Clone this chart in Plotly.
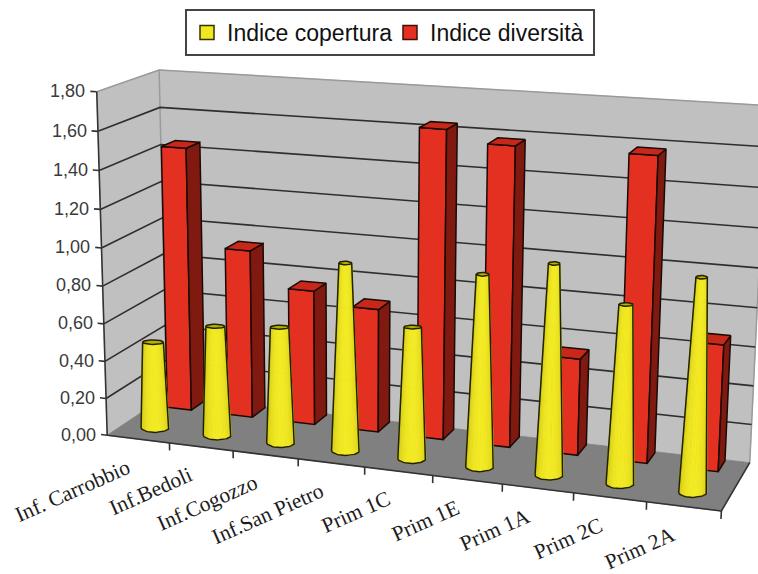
import numpy as np
import plotly.graph_objects as go

# ---------- data ----------
categories = ["Inf. Carrobbio", "Inf.Bedoli", "Inf.Cogozzo", "Inf.San Pietro", "Prim 1C", "Prim 1E", "Prim 1A", "Prim 2C", "Prim 2A"]
indice_copertura = [0.465, 0.585, 0.615, 0.98, 0.685, 0.985, 1.07, 0.90, 1.065]
indice_diversita = [1.43, 0.91, 0.725, 0.66, 1.62, 1.56, 0.505, 1.56, 0.65]
tick_values = [0.0, 0.2, 0.4, 0.6, 0.8, 1.0, 1.2, 1.4, 1.6, 1.8]
tick_labels = ["0,00", "0,20", "0,40", "0,60", "0,80", "1,00", "1,20", "1,40", "1,60", "1,80"]
series_names = ["Indice copertura", "Indice diversità"]

W, H = 758, 574
N = len(categories)
ZMAX = tick_values[-1]

# ---------- oblique 3-D projection (category, depth, value) -> page axes ----------
calib = [((0,0,1.8),(95,92)),((0,0,0),(110,432)),((0,1,1.8),(161,69)),((0,1,0),(164,398)),
         ((9,1,1.8),(767,106)),((9,1,1.8),(767,106)),((9,1,0),(750,461)),((9,0,0),(720,511)),
         ((9,1,0.2),(752,422)),((9,1,0.4),(754,384)),((9,1,0.8),(758,308)),
         ((1,0,0),(170,443)),((2,0,0),(233,451)),((3,0,0),(299,460)),((4,0,0),(365,467)),
         ((5,0,0),(433,476)),((6,0,0),(502,486)),((7,0,0),(573,495)),((8,0,0),(646,503)),
         ((0,0,0.8),(102,285)),((0,0,1.2),(100,209)),((0,0,0.4),(106,359)),
         ((0,1,0.8),(162,255)),((0,1,1.2),(162,183))]
A = []
for (X, Y, Z), (u, v) in calib:
    u, v = u / 400 - 1, v / 300 - 1
    A.append([X, Y, Z, 1, 0, 0, 0, 0, -u*X, -u*Y, -u*Z, -u])
    A.append([0, 0, 0, 0, X, Y, Z, 1, -v*X, -v*Y, -v*Z, -v])
P = np.linalg.svd(np.array(A, float))[2][-1].reshape(3, 4)

def pr(c, d, z):
    q = P @ np.array([c, d, z, 1.0])
    return (q[0] / q[2] + 1) * 400, (q[1] / q[2] + 1) * 300

def xy_poly_trace(polys, fill, line=None, lw=1.5):
    xs, ys = [], []
    for poly in polys:
        for x, y in list(poly) + [poly[0]]:
            xs.append(x); ys.append(y)
        xs.append(None); ys.append(None)
    return go.Scatter(x=xs, y=ys, mode="lines", fill="toself", fillcolor=fill,
                      line=dict(color=line or fill, width=lw if line else 0.8),
                      hoverinfo="skip", showlegend=False)

def poly_trace(polys, fill, line=None, lw=1.5):
    return xy_poly_trace([[pr(*a) for a in poly] for poly in polys], fill, line, lw)

def line_trace(segs, color, lw=1.5):
    xs, ys = [], []
    for seg in segs:
        for a in seg:
            x, y = pr(*a)
            xs.append(x); ys.append(y)
        xs.append(None); ys.append(None)
    return go.Scatter(x=xs, y=ys, mode="lines", line=dict(color=color, width=lw),
                      hoverinfo="skip", showlegend=False)

traces = []
# walls and floor
traces.append(poly_trace([[(0,0,0),(0,1,0),(0,1,ZMAX),(0,0,ZMAX)],
                          [(0,1,0),(N,1,0),(N,1,ZMAX),(0,1,ZMAX)]], "#c0c0c0"))
traces.append(line_trace([[(0,0,ZMAX),(0,1,ZMAX),(N,1,ZMAX)], [(0,1,0),(0,1,ZMAX)], [(N,1,0),(N,1,ZMAX)]], "#9a9a9a", 1.5))
traces.append(line_trace([[(0,0,t),(0,1,t),(N,1,t)] for t in tick_values[1:-1]], "#2e2e2e", 1.6))
traces.append(poly_trace([[(0,0,0),(N,0,0),(N,1,0),(0,1,0)]], "#808080"))
traces.append(line_trace([[(0,0,0),(0,0,ZMAX)], [(0,0,0),(N,0,0)], [(N,0,0),(N,1,0)]], "#333333", 1.6))
traces.append(line_trace([[(0,0,t),(-0.1,0,t)] for t in tick_values], "#333333", 1.6))
traces.append(line_trace([[(i,0,0),(i,0,-0.04)] for i in range(1, N+1)], "#333333", 1.6))

# red bars (back row)
bw, d0, d1 = 0.2, 0.74, 0.98
fr, si, to = [], [], []
for i, v in enumerate(indice_diversita):
    c = i + 0.46
    a, b = c - bw, c + bw
    fr.append([(a,d0,0),(b,d0,0),(b,d0,v),(a,d0,v)])
    si.append([(b,d0,0),(b,d1,0),(b,d1,v),(b,d0,v)])
    to.append([(a,d0,v),(b,d0,v),(b,d1,v),(a,d1,v)])
traces.append(poly_trace(fr, "#e33020", "#1a0a06"))
traces.append(poly_trace(si, "#801a10", "#1a0a06"))
traces.append(poly_trace(to, "#c8281a", "#1a0a06"))

# yellow cones (front row): elliptical sections drawn upright on the page
cd = 0.28
RX, RY_BASE, RY_TOP = 14.0, 5.0, 3.0
M = 24
thetas = np.linspace(0, np.pi, M + 1)  # page y points down: sin>0 is the near side
def strip_color(t):
    t = abs(t - 0.5) * 2
    a = np.array([244, 236, 36]); b = np.array([196, 188, 16])
    c = a + (b - a) * t**2
    return "rgb(%d,%d,%d)" % tuple(c)
def ring(i, z, rx, ry, th):
    x, y = pr(i + 0.5, cd, z)
    return [(x + rx*np.cos(t), y + ry*np.sin(t)) for t in th]
for k in range(M):
    polys = []
    th = thetas[k:k+2]
    for i, v in enumerate(indice_copertura):
        s = 1 - v / ZMAX
        lo = ring(i, 0, RX, RY_BASE, th)
        hi = ring(i, v, RX*s, RY_TOP*max(s, .6), th)
        polys.append([lo[0], lo[1], hi[1], hi[0]])
    traces.append(xy_poly_trace(polys, strip_color((k + 0.5) / M)))
caps, ox, oy = [], [], []
full = np.linspace(0, 2*np.pi, 25)
for i, v in enumerate(indice_copertura):
    s = 1 - v / ZMAX
    caps.append(ring(i, v, RX*s, RY_TOP*max(s, .6), full))
    base = ring(i, 0, RX, RY_BASE, thetas)
    top = ring(i, v, RX*s, RY_TOP*max(s, .6), thetas)
    for x, y in [top[0]] + base + [top[-1]]:
        ox.append(x); oy.append(y)
    ox.append(None); oy.append(None)
traces.append(xy_poly_trace(caps, "#b8b000", "#222200"))
traces.append(go.Scatter(x=ox, y=oy, mode="lines", line=dict(color="#222200", width=1.5),
                         hoverinfo="skip", showlegend=False))

# legend entries
traces.append(go.Scatter(x=[None], y=[None], mode="markers", name=series_names[0],
              marker=dict(symbol="square", size=14, color="#f0e820", line=dict(color="#333300", width=1.5))))
traces.append(go.Scatter(x=[None], y=[None], mode="markers", name=series_names[1],
              marker=dict(symbol="square", size=14, color="#e33020", line=dict(color="#401008", width=1.5))))

# text
ann = []
for t, lab in zip(tick_values, tick_labels):
    x, y = pr(-0.1, 0, t)
    ann.append(dict(x=x, y=y, xref="x", yref="y", text=lab, showarrow=False, xanchor="right", xshift=-3,
                    font=dict(family="Liberation Sans", size=18, color="#3a3a3a")))
for i, lab in enumerate(categories):
    x, y = pr(i + 0.5, 0, 0)
    ann.append(dict(x=x - 2, y=y + 13, xref="x", yref="y", text=lab, showarrow=False, textangle=-24,
                    xanchor="right", yanchor="top",
                    font=dict(family="Liberation Serif", size=21.5, color="#1c1c1c")))

fig = go.Figure(traces)
fig.update_layout(width=W, height=H, margin=dict(l=0, r=0, t=0, b=0),
                  paper_bgcolor="white", plot_bgcolor="white", annotations=ann,
                  xaxis=dict(range=[0, W], visible=False, fixedrange=True),
                  yaxis=dict(range=[H, 0], visible=False, fixedrange=True),
                  legend=dict(orientation="h", x=185/W, y=1-9/H, xanchor="left", yanchor="top",
                              bgcolor="white", bordercolor="#444444", borderwidth=2,
                              font=dict(family="Liberation Sans", size=23, color="#111111"),
                              itemwidth=30, entrywidth=158, entrywidthmode="pixels", traceorder="normal"))
fig.write_html("out.html", default_width=f"{W}px", default_height=f"{H}px",
               config=dict(displayModeBar=False),
               post_script="document.body.style.margin='0';document.body.style.overflow='hidden';")
